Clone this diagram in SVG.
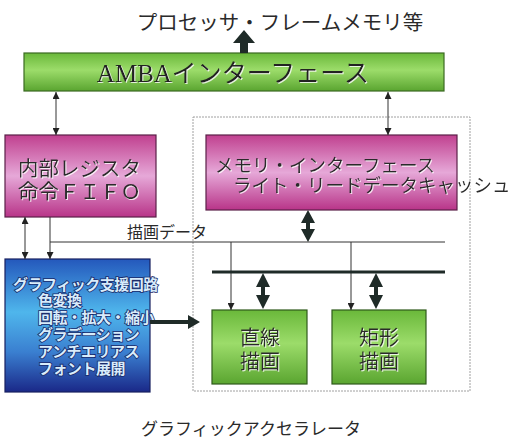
<svg xmlns="http://www.w3.org/2000/svg" width="513" height="439" viewBox="0 0 513 439">
<defs>
<style>
.jp{font-family:"Noto Sans CJK JP","Noto Sans",sans-serif;}
.dark{fill:#2a2a2a;}
.thin{stroke:#333;stroke-width:1;fill:none;}
.thick{fill:#1f2b28;}
.boxline{stroke-width:1.2;}
</style>
<linearGradient id="gGreen" x1="0" y1="0" x2="0" y2="1">
<stop offset="0" stop-color="#6ab83a"/>
<stop offset="0.45" stop-color="#9cdc6a"/>
<stop offset="1" stop-color="#5aa530"/>
</linearGradient>
<linearGradient id="gPink" x1="0" y1="0" x2="0" y2="1">
<stop offset="0" stop-color="#c0408f"/>
<stop offset="0.5" stop-color="#e6a8d8"/>
<stop offset="1" stop-color="#b83488"/>
</linearGradient>
<linearGradient id="gBlue" x1="0" y1="0" x2="0" y2="1">
<stop offset="0" stop-color="#2458bc"/>
<stop offset="0.4" stop-color="#4fb6ec"/>
<stop offset="0.7" stop-color="#3a7fd0"/>
<stop offset="1" stop-color="#1a2888"/>
</linearGradient>
<filter id="hl" x="-5%" y="-20%" width="110%" height="140%">
<feDropShadow dx="1" dy="1" stdDeviation="0.3" flood-color="#ffffff" flood-opacity="0.8"/>
</filter>
<marker id="ah" viewBox="0 0 10 10" refX="10" refY="5" markerWidth="7" markerHeight="7" orient="auto-start-reverse" markerUnits="userSpaceOnUse">
<path d="M0,0 L10,5 L0,10 z" fill="#222"/>
</marker>
</defs>

<!-- title -->
<text class="jp dark" x="280" y="30" font-size="20.5" text-anchor="middle">プロセッサ・フレームメモリ等</text>

<g id="amba">
<rect x="24" y="53" width="420" height="38" fill="url(#gGreen)" stroke="#3b6a22" class="boxline"/>
<text x="233" y="82" font-size="25" text-anchor="middle" fill="#222" font-family="'Liberation Serif','Noto Sans CJK JP',serif" filter="url(#hl)">AMBAインターフェース</text>
</g>

<g id="accel-frame">
<rect x="193" y="117" width="277" height="274" fill="none" stroke="#a0a0a0" stroke-width="1" stroke-dasharray="2,1"/>
</g>

<g id="reg-fifo">
<rect x="5" y="135" width="151" height="82" fill="url(#gPink)" stroke="#5a2048" class="boxline"/>
<text class="jp dark" font-size="20.5" filter="url(#hl)" x="18" y="176">内部レジスタ</text>
<text class="jp dark" font-size="20.5" filter="url(#hl)" x="18" y="199">命令ＦＩＦＯ</text>
</g>

<g id="mem-if">
<rect x="206" y="135" width="251" height="75" fill="url(#gPink)" stroke="#5a2048" class="boxline"/>
<text class="jp dark" font-size="18.5" filter="url(#hl)" x="215" y="172">メモリ・インターフェース</text>
<text class="jp dark" font-size="18.5" filter="url(#hl)" x="233" y="192">ライト・リードデータキャッシュ</text>
</g>

<g id="gfx-support">
<rect x="5" y="259" width="145" height="133" fill="url(#gBlue)" stroke="#182060" class="boxline"/>
<g class="jp" font-size="15" font-weight="bold" fill="#d8ecfb" stroke="#1a2a6a" stroke-width="1.6" paint-order="stroke" letter-spacing="-0.5">
<text x="13" y="290">グラフィック支援回路</text>
<text x="38" y="306">色変換</text>
<text x="38" y="323">回転・拡大・縮小</text>
<text x="38" y="340">グラデーション</text>
<text x="38" y="357">アンチエリアス</text>
<text x="38" y="374">フォント展開</text>
</g>
</g>

<g id="line-draw">
<rect x="212" y="310" width="95" height="74" fill="url(#gGreen)" stroke="#2f5a1c" class="boxline"/>
<text class="jp dark" font-size="20" text-anchor="middle" filter="url(#hl)" x="260" y="345">直線</text>
<text class="jp dark" font-size="20" text-anchor="middle" filter="url(#hl)" x="260" y="369">描画</text>
</g>

<g id="rect-draw">
<rect x="332" y="310" width="94" height="74" fill="url(#gGreen)" stroke="#2f5a1c" class="boxline"/>
<text class="jp dark" font-size="20" text-anchor="middle" filter="url(#hl)" x="379" y="345">矩形</text>
<text class="jp dark" font-size="20" text-anchor="middle" filter="url(#hl)" x="379" y="369">描画</text>
</g>

<g id="connectors">
<path class="thick" d="M244,30 L255,43 L248,43 L248,53 L240,53 L240,43 L233,43 z"/>
<line class="thin" x1="56" y1="92" x2="56" y2="135" marker-start="url(#ah)" marker-end="url(#ah)"/>
<line class="thin" x1="388" y1="92" x2="388" y2="135" marker-start="url(#ah)" marker-end="url(#ah)"/>
<line class="thin" x1="25" y1="217" x2="25" y2="259" marker-start="url(#ah)" marker-end="url(#ah)"/>
<line class="thin" x1="50" y1="217" x2="50" y2="259" marker-end="url(#ah)"/>
<line class="thin" x1="50" y1="242" x2="445" y2="242"/>
<text class="jp dark" x="127" y="238" font-size="16">描画データ</text>
<line class="thin" x1="231" y1="242" x2="231" y2="310" marker-end="url(#ah)"/>
<line class="thin" x1="351" y1="242" x2="351" y2="310" marker-end="url(#ah)"/>
<path class="thick" d="M308,210 L315,223 L310,223 L310,229 L315,229 L308,242 L301,229 L306,229 L306,223 L301,223 z"/>
<line x1="212" y1="272" x2="445" y2="272" stroke="#1f2b28" stroke-width="3"/>
<path class="thick" d="M263,273 L270,287 L265,287 L265,295 L270,295 L263,309 L256,295 L261,295 L261,287 L256,287 z"/>
<path class="thick" d="M376,273 L383,287 L378,287 L378,295 L383,295 L376,309 L369,295 L374,295 L374,287 L369,287 z"/>
<path class="thick" d="M150,320 L188,320 L188,315 L200,322 L188,329 L188,324 L150,324 z"/>
</g>

<text x="251" y="435" font-size="17" text-anchor="middle" fill="#2a2a2a" font-family="'Noto Sans CJK JP',sans-serif">グラフィックアクセラレータ</text>
</svg>
